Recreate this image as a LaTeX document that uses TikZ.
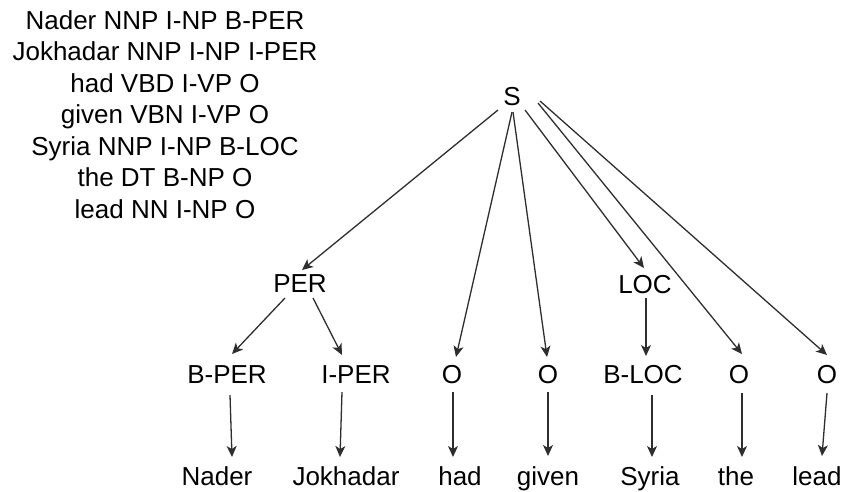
\documentclass[tikz,border=0pt]{standalone}
\usepackage{fontspec}
\setmainfont{Liberation Sans}
\usetikzlibrary{arrows.meta,calc}
\tikzset{
  lbl/.style={anchor=base,inner sep=0pt,font=\fontsize{26}{31}\selectfont},
  edge/.style={draw=black!82,line width=1.3pt,-{Stealth[length=11pt,width=10pt,inset=3pt]}}
}
\begin{document}
\begin{tikzpicture}[x=1pt,y=-1pt]
\useasboundingbox (0,0) rectangle (843,491);

% token list with POS, chunk and entity tags
\node[lbl] (l1) at (165,29)   {Nader NNP I-NP B-PER};
\node[lbl] (l2) at (165,60.5) {Jokhadar NNP I-NP I-PER};
\node[lbl] (l3) at (165,92)   {had VBD I-VP O};
\node[lbl] (l4) at (165,123.5){given VBN I-VP O};
\node[lbl] (l5) at (165,155)  {Syria NNP I-NP B-LOC};
\node[lbl] (l6) at (165,186.5){the DT B-NP O};
\node[lbl] (l7) at (165,218)  {lead NN I-NP O};

% tree nodes
\node[lbl] (S)   at (512,105) {S};
\node[lbl] (PER) at (300,292) {PER};
\node[lbl] (LOC) at (645,293) {LOC};

\node[lbl] (bper) at (227,383) {B-PER};
\node[lbl] (iper) at (356,383) {I-PER};
\node[lbl] (o3)   at (452,383) {O};
\node[lbl] (o4)   at (548,383) {O};
\node[lbl] (bloc) at (643,383) {B-LOC};
\node[lbl] (o6)   at (739,383) {O};
\node[lbl] (o7)   at (827,383) {O};

\node[lbl] (w1) at (217,485) {Nader};
\node[lbl] (w2) at (346,485) {Jokhadar};
\node[lbl] (w3) at (460,485) {had};
\node[lbl] (w4) at (548,485) {given};
\node[lbl] (w5) at (650,485) {Syria};
\node[lbl] (w6) at (736,485) {the};
\node[lbl] (w7) at (817,485) {lead};

% edges from the root
\draw[edge] ($(S.base)+(-14,5)$) -- ($(PER.base)+(2,-22)$);
\draw[edge] ($(S.base)+(0,7)$)   -- ($(o3.base)+(4,-26)$);
\draw[edge] ($(S.base)+(1,7)$)   -- ($(o4.base)+(-1,-26)$);
\draw[edge] ($(S.base)+(13,5)$)  -- ($(LOC.base)+(-1,-25)$);
\draw[edge] ($(S.base)+(26,-2)$) -- ($(o6.base)+(3,-29)$);
\draw[edge] ($(S.base)+(28,-4)$) -- ($(o7.base)+(0,-28)$);

% entity spans to token tags
\draw[edge] ($(PER.base)+(-15,6)$) -- ($(bper.base)+(5,-29)$);
\draw[edge] ($(PER.base)+(13,6)$)  -- ($(iper.base)+(-14,-28)$);
\draw[edge] ($(LOC.base)+(1,5)$)   -- ($(bloc.base)+(3,-27)$);

% tags to words
\draw[edge] ($(bper.base)+(3,12)$)  -- ($(w1.base)+(15,-28)$);
\draw[edge] ($(iper.base)+(-14,9)$) -- ($(w2.base)+(-6,-28)$);
\draw[edge] ($(o3.base)+(1,9)$)     -- ($(w3.base)+(-7,-28)$);
\draw[edge] ($(o4.base)+(0,9)$)     -- ($(w4.base)+(0,-29)$);
\draw[edge] ($(bloc.base)+(9,12)$)  -- ($(w5.base)+(2,-28)$);
\draw[edge] ($(o6.base)+(3,10)$)    -- ($(w6.base)+(6,-28)$);
\draw[edge] ($(o7.base)+(0,10)$)    -- ($(w7.base)+(5,-29)$);
\end{tikzpicture}
\end{document}
